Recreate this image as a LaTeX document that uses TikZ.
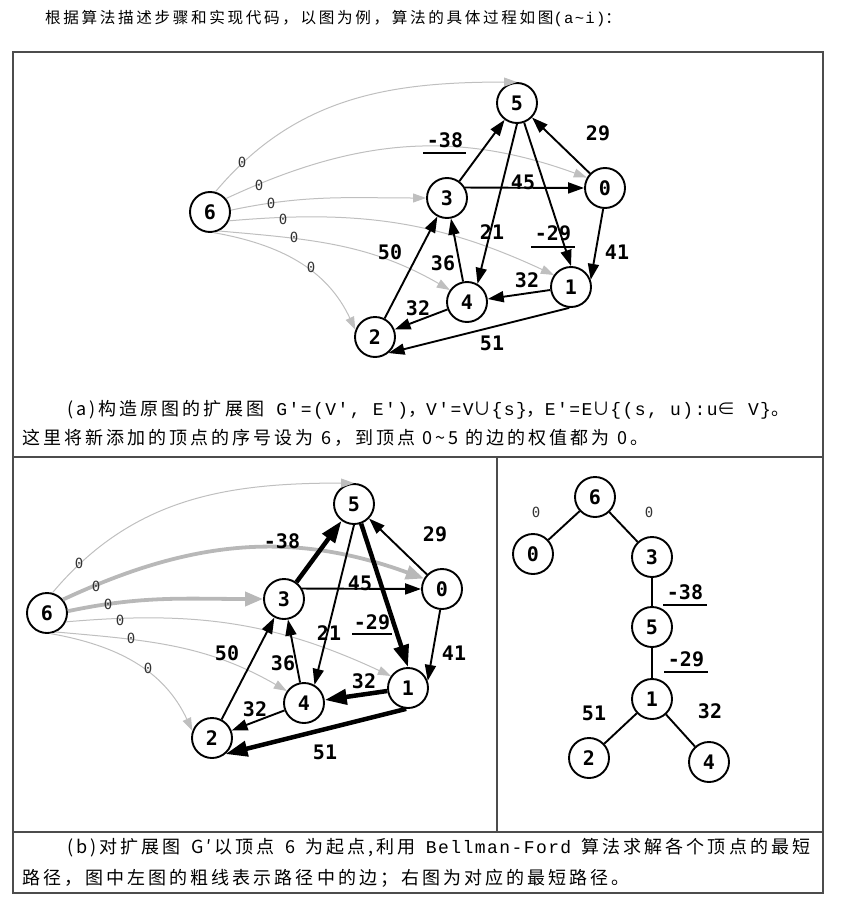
\documentclass[tikz,border=0pt]{standalone}
\usepackage{fontspec}
\setmonofont{Liberation Mono}[LetterSpace=8]
\newfontfamily\zh{Noto Sans CJK SC}[LetterSpace=17]
\newfontfamily\gfont{DejaVu Sans Mono}
\usetikzlibrary{arrows.meta}
\newcommand\cm[1]{{\ttfamily #1}}
\tikzset{
  vtx/.style={circle, draw, line width=1.9pt, minimum size=40pt, inner sep=0pt, font=\gfont\bfseries\fontsize{20}{20}\selectfont},
  wt/.style={inner sep=0pt, font=\gfont\bfseries\fontsize{20}{20}\selectfont},
  zw/.style={inner sep=0pt, text=black!80, font=\gfont\fontsize{14}{14}\selectfont},
  edge/.style={line width=1.9pt, -{Triangle[length=16pt,width=11pt]}},
  pedge/.style={line width=4.5pt, -{Triangle[length=22pt,width=15pt]}},
  zedge/.style={draw=black!25, line width=1pt, -{Triangle[length=13pt,width=9pt]}},
  pzedge/.style={draw=black!28, line width=3.8pt, -{Triangle[length=18pt,width=14pt]}},
  tedge/.style={line width=1.9pt},
  uline/.style={line width=1.3pt},
  frame/.style={draw=black!70, line width=1.2pt},
  txt/.style={anchor=west, inner sep=0pt}
}
\begin{document}
\begin{tikzpicture}[x=1pt, y=-1pt]
\useasboundingbox (0,0) rectangle (854,902);
\node[txt, font=\fontsize{15.6}{16}\selectfont] (title) at (45,19) {{\zh 根据算法描述步骤和实现代码，以图为例，算法的具体过程如图}\cm{(a\textasciitilde i)}{\zh ：}};
\draw[frame] (13,52) rectangle (823,893);
\draw[frame] (13,457) -- (823,457);
\draw[frame] (13,832) -- (823,832);
\draw[frame] (497,457) -- (497,832);

\node[vtx] (a5) at (517,103) {5};
\node[vtx] (a0) at (605,188) {0};
\node[vtx] (a3) at (447,198) {3};
\node[vtx] (a6) at (210,212) {6};
\node[vtx] (a1) at (571,287) {1};
\node[vtx] (a4) at (467,302) {4};
\node[vtx] (a2) at (375,337) {2};
\draw[zedge] (a6.75) to[out=50,in=180] (a5.north);
\draw[zedge] (a6.40) to[out=25,in=160] (a0.150);
\draw[zedge] (a6.5) to[out=12,in=180] (a3.west);
\draw[zedge] (a6.-25) to[out=5,in=155] (a1.145);
\draw[zedge] (a6.-65) to[out=-5,in=150] (a4.145);
\draw[zedge] (a6.-80) to[out=-10,in=115] (a2.160);
\draw[edge] (a3) -- (a5);
\draw[edge] (a0) -- (a5);
\draw[edge] (a3.30) -- (a0.west);
\draw[edge] (a5.south) -- (a4.60);
\draw[edge] (a5.-70) -- (a1.north);
\draw[edge] (a0.-95) -- (a1.20);
\draw[edge] (a1) -- (a4);
\draw[edge] (a4) -- (a3);
\draw[edge] (a2) -- (a3);
\draw[edge] (a4) -- (a2);
\draw[edge] (a1.-95) -- (a2.-50);
\node[zw] at (242,162) {0};
\node[zw] at (259,185) {0};
\node[zw] at (271,203) {0};
\node[zw] at (283,219) {0};
\node[zw] at (294,237) {0};
\node[zw] at (311,267) {0};
\node[wt] (aw35) at (445,140) {-38};
\draw[uline] ([xshift=-22pt,yshift=-13pt]aw35.center) -- ++(43,0);
\node[wt] at (598,133) {29};
\node[wt] at (523,182) {45};
\node[wt] at (492,232) {21};
\node[wt] (aw51) at (553,233) {-29};
\draw[uline] ([xshift=-22pt,yshift=-14pt]aw51.center) -- ++(44,0);
\node[wt] at (617,252) {41};
\node[wt] at (527,280) {32};
\node[wt] at (443,263) {36};
\node[wt] at (390,252) {50};
\node[wt] at (418,308) {32};
\node[wt] at (492,343) {51};
\node[txt, font=\fontsize{18}{18}\selectfont] (capa1) at (67,410) {\hbox to 748pt{{\zh (a)构造原图的扩展图}\cm{ G′=(V′, E′)}{\zh ，}\cm{V′=V}{\zh ∪}\cm{\{s\}}{\zh ，}\cm{E′=E}{\zh ∪}\cm{\{(s, u):u}{\zh ∈}\cm{ V\}}{\zh 。}}};
\node[txt, font=\fontsize{18}{18}\selectfont] (capa2) at (22,438) {\zh 这里将新添加的顶点的序号设为 6，到顶点 0\textasciitilde 5 的边的权值都为 0。};

\begin{scope}[shift={(-163,401)}]
\node[vtx] (b5) at (517,103) {5};
\node[vtx] (b0) at (605,188) {0};
\node[vtx] (b3) at (447,198) {3};
\node[vtx] (b6) at (210,212) {6};
\node[vtx] (b1) at (571,287) {1};
\node[vtx] (b4) at (467,302) {4};
\node[vtx] (b2) at (375,337) {2};
\draw[zedge] (b6.75) to[out=50,in=180] (b5.north);
\draw[pzedge] (b6.40) to[out=25,in=160] (b0.150);
\draw[pzedge] (b6.5) to[out=12,in=180] (b3.west);
\draw[zedge] (b6.-25) to[out=5,in=155] (b1.145);
\draw[zedge] (b6.-65) to[out=-5,in=150] (b4.145);
\draw[zedge] (b6.-80) to[out=-10,in=115] (b2.160);
\draw[pedge] (b3) -- (b5);
\draw[edge] (b0) -- (b5);
\draw[edge] (b3.30) -- (b0.west);
\draw[edge] (b5.south) -- (b4.60);
\draw[pedge] (b5.-70) -- (b1.north);
\draw[edge] (b0.-95) -- (b1.20);
\draw[pedge] (b1) -- (b4);
\draw[edge] (b4) -- (b3);
\draw[edge] (b2) -- (b3);
\draw[edge] (b4) -- (b2);
\draw[pedge] (b1.-95) -- (b2.-50);
\node[zw] at (242,162) {0};
\node[zw] at (259,185) {0};
\node[zw] at (271,203) {0};
\node[zw] at (283,219) {0};
\node[zw] at (294,237) {0};
\node[zw] at (311,267) {0};
\node[wt] at (445,140) {-38};
\node[wt] at (598,133) {29};
\node[wt] at (523,182) {45};
\node[wt] at (492,232) {21};
\node[wt] (bw51) at (535,221) {-29};
\draw[uline] ([xshift=-20pt,yshift=-12pt]bw51.center) -- ++(40,0);
\node[wt] at (617,252) {41};
\node[wt] at (527,280) {32};
\node[wt] at (446,262) {36};
\node[wt] at (390,252) {50};
\node[wt] at (418,308) {32};
\node[wt] at (488,351) {51};
\end{scope}

\node[vtx] (t6) at (595,497) {6};
\node[vtx] (t0) at (533,554) {0};
\node[vtx] (t3) at (652,557) {3};
\node[vtx] (t5) at (652,627) {5};
\node[vtx] (t1) at (652,699) {1};
\node[vtx] (t2) at (589,758) {2};
\node[vtx] (t4) at (709,762) {4};
\draw[tedge] (t6) -- (t0);
\draw[tedge] (t6) -- (t3);
\draw[tedge] (t3) -- (t5);
\draw[tedge] (t5) -- (t1);
\draw[tedge] (t1) -- (t2);
\draw[tedge] (t1) -- (t4);
\node[zw] at (536,512) {0};
\node[zw] at (649,512) {0};
\node[wt] (tw35) at (685,592) {-38};
\draw[uline] ([xshift=-22pt,yshift=-13pt]tw35.center) -- ++(44,0);
\node[wt] (tw51) at (686,659) {-29};
\draw[uline] ([xshift=-22pt,yshift=-13pt]tw51.center) -- ++(44,0);
\node[wt] at (594,713) {51};
\node[wt] at (710,711) {32};

\node[txt, font=\fontsize{18}{18}\selectfont] (capb1) at (67,848) {\hbox to 743pt{{\zh (b)对扩展图 G′以顶点 6 为起点,利用 }\cm{Bellman-Ford}{\zh{} 算法求解各个顶点的最短}}};
\node[txt, font=\fontsize{18}{18}\selectfont] (capb2) at (22,878) {\zh 路径，图中左图的粗线表示路径中的边；右图为对应的最短路径。};
\end{tikzpicture}
\end{document}
